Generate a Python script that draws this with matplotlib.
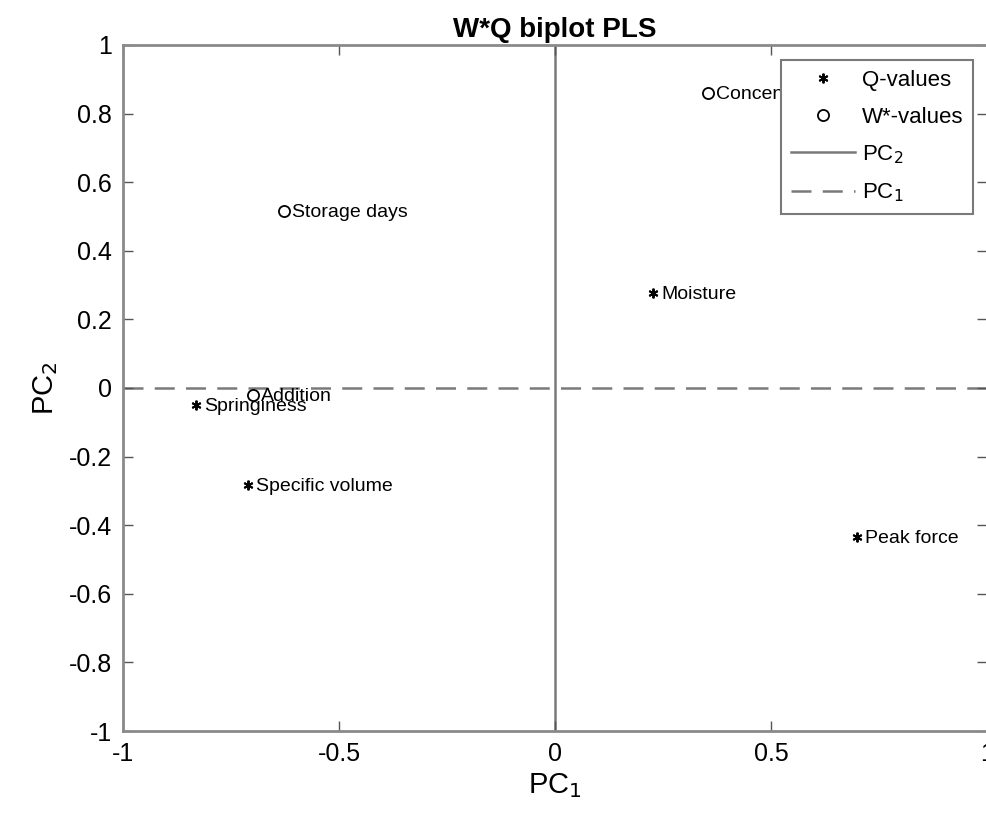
import matplotlib.pyplot as plt

plt.rcParams['font.family'] = ['Liberation Sans', 'DejaVu Sans']
plt.rcParams['axes.unicode_minus'] = False

# Q-values (responses)
q_names = ['Springiness', 'Specific volume', 'Moisture', 'Peak force']
q_x = [-0.831, -0.711, 0.227, 0.699]
q_y = [-0.050, -0.283, 0.277, -0.434]

# W*-values (predictors)
w_names = ['Storage days', 'Addition', 'Concentration']
w_x = [-0.627, -0.699, 0.354]
w_y = [0.516, -0.020, 0.860]

xticks = [-1, -0.5, 0, 0.5, 1]
xticklabels = ['-1', '-0.5', '0', '0.5', '1']
yticks = [-1, -0.8, -0.6, -0.4, -0.2, 0, 0.2, 0.4, 0.6, 0.8, 1]
yticklabels = ['-1', '-0.8', '-0.6', '-0.4', '-0.2', '0', '0.2', '0.4', '0.6', '0.8', '1']

fig = plt.figure(figsize=(9.87, 8.22), dpi=100)
ax = fig.add_axes([0.1246, 0.1107, 0.8754, 0.8346])

# six-armed asterisk like MATLAB's '*'
ax.plot(q_x, q_y, linestyle='none', marker=(6, 2, 0), color='black',
        markersize=7, markeredgewidth=1.4, label='Q-values', zorder=3)
ax.plot(w_x, w_y, linestyle='none', marker='o', markerfacecolor='none',
        markeredgecolor='black', markeredgewidth=1.3, markersize=8,
        label='W*-values', zorder=3)
ax.axvline(0, color='#7a7a7a', linewidth=1.8, label='PC$_2$', zorder=1)
ax.axhline(0, color='#7a7a7a', linewidth=1.8, linestyle=(0, (8, 4.5)),
           label='PC$_1$', zorder=1)

for name, x, y in zip(q_names + w_names, q_x + w_x, q_y + w_y):
    ax.annotate(name, (x, y), xytext=(6, -1), textcoords='offset points',
                va='center', ha='left', fontsize=14, zorder=2)

ax.set_xlim(-1, 1)
ax.set_ylim(-1, 1)
ax.set_xticks(xticks)
ax.set_xticklabels(xticklabels)
ax.set_yticks(yticks)
ax.set_yticklabels(yticklabels)
ax.tick_params(direction='in', top=True, right=True, labelsize=18,
               length=7, width=1, color='#555555', pad=8)
for s in ax.spines.values():
    s.set_color('#8a8a8a')
    s.set_linewidth(2)

ax.set_title('W*Q biplot PLS', fontsize=20, fontweight='bold', pad=6)
ax.set_xlabel('PC$_1$', fontsize=21, labelpad=4)
ax.set_ylabel('PC$_2$', fontsize=21, labelpad=6)

leg = ax.legend(loc='upper right', bbox_to_anchor=(0.984, 0.978),
                borderaxespad=0, fontsize=16, fancybox=False,
                edgecolor='#7a7a7a', framealpha=1, handlelength=2.9,
                labelspacing=0.7, borderpad=0.45, handletextpad=0.3)
leg.get_frame().set_linewidth(1.5)
leg.set_zorder(5)

fig.savefig('out.png', dpi=100)
